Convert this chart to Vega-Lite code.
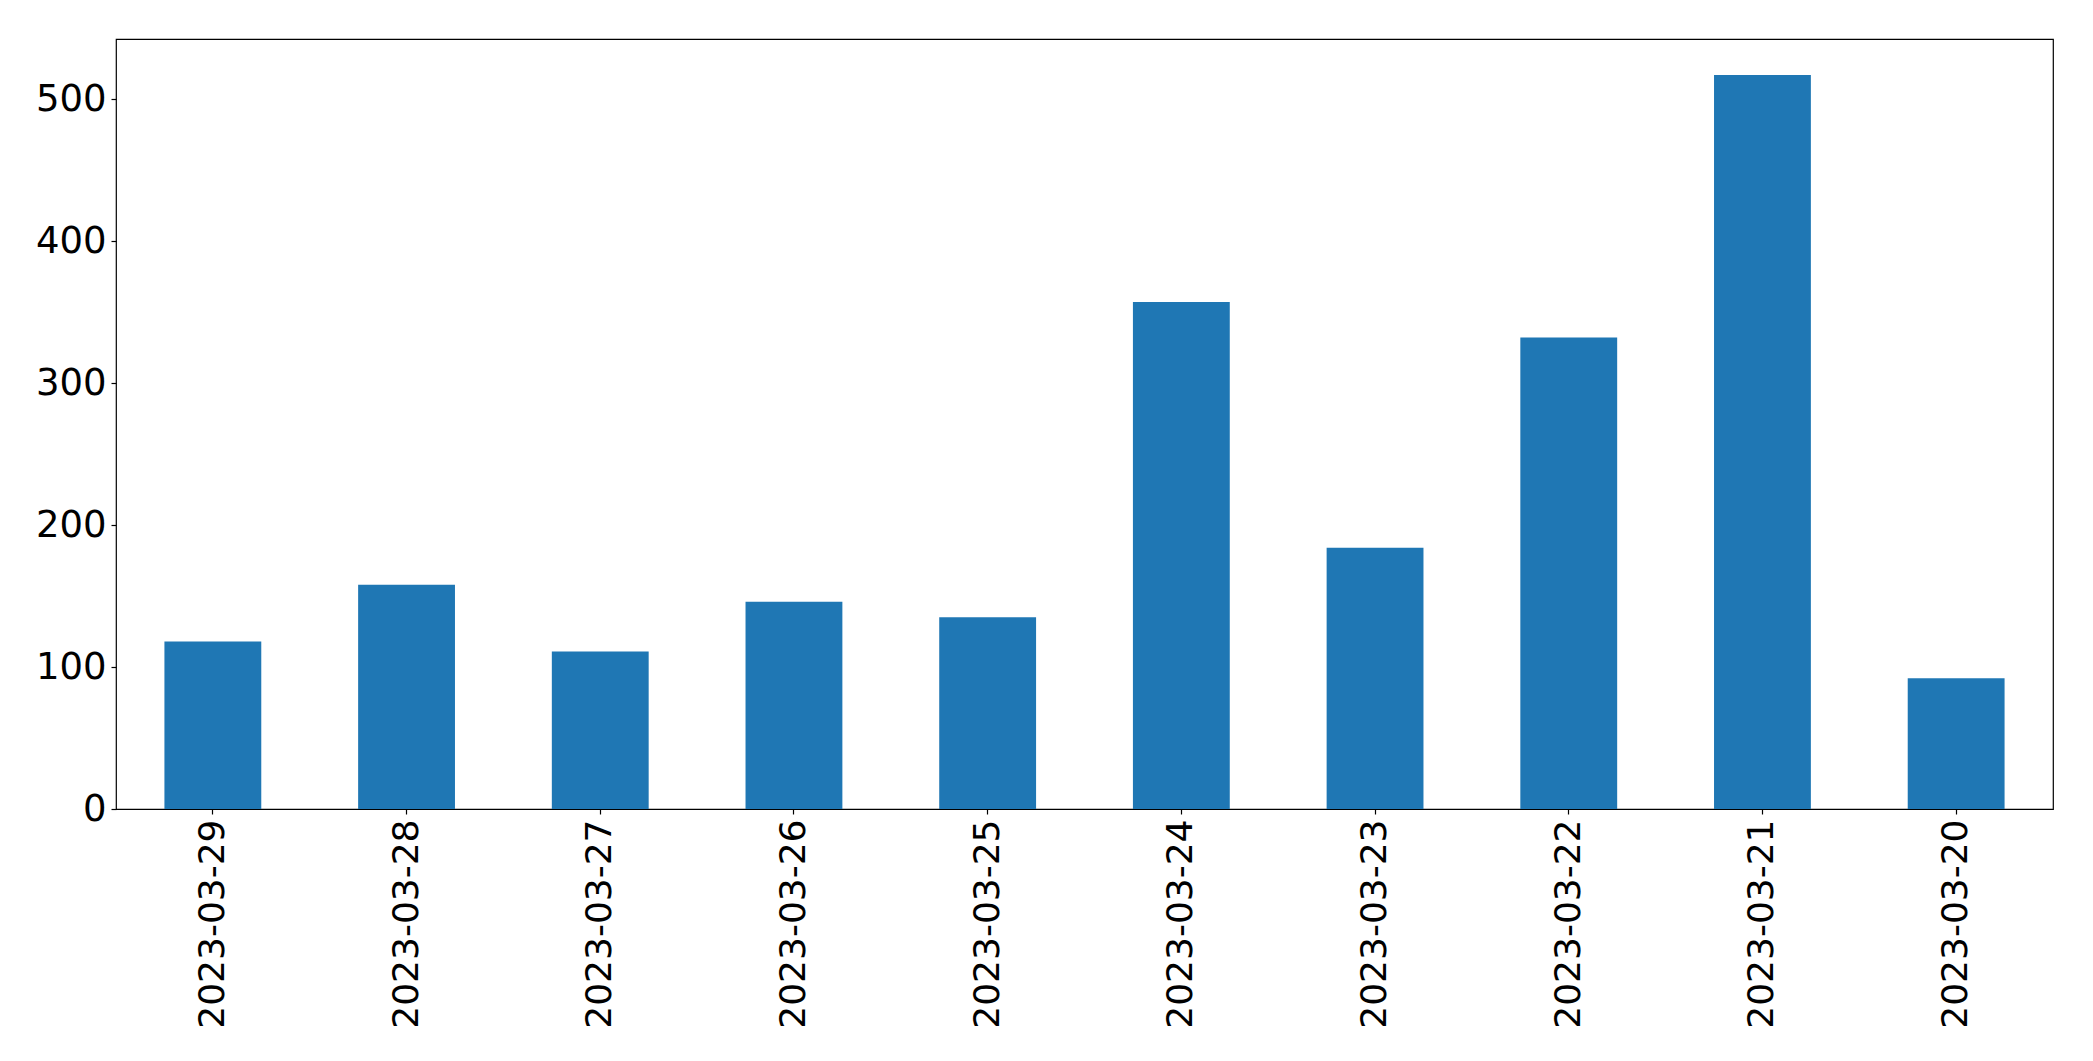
{
  "$schema": "https://vega.github.io/schema/vega-lite/v6.json",
  "width": 1937,
  "height": 770,
  "autosize": {"type": "none"},
  "padding": {"left": 116, "top": 39, "right": 40, "bottom": 252},
  "background": "white",
  "config": {
    "view": {"stroke": "black", "strokeWidth": 1.2},
    "axis": {"grid": false, "domain": false, "tickColor": "black", "tickSize": 5, "tickWidth": 1.2, "labelColor": "black", "labelFont": "DejaVu Sans", "labelFontSize": 36, "labelLimit": 0, "title": null}
  },
  "data": {
    "values": [
      {"date": "2023-03-29", "count": 118},
      {"date": "2023-03-28", "count": 158},
      {"date": "2023-03-27", "count": 111},
      {"date": "2023-03-26", "count": 146},
      {"date": "2023-03-25", "count": 135},
      {"date": "2023-03-24", "count": 357},
      {"date": "2023-03-23", "count": 184},
      {"date": "2023-03-22", "count": 332},
      {"date": "2023-03-21", "count": 517},
      {"date": "2023-03-20", "count": 92}
    ]
  },
  "mark": {"type": "bar", "color": "#1f77b4"},
  "encoding": {
    "x": {
      "field": "date", "type": "nominal", "sort": null,
      "scale": {"paddingInner": 0.5, "paddingOuter": 0.25},
      "axis": {"labelAngle": -90, "labelAlign": "right", "labelBaseline": "middle", "labelPadding": 5}
    },
    "y": {
      "field": "count", "type": "quantitative",
      "scale": {"domain": [0, 542.3], "nice": false, "zero": true},
      "axis": {"values": [0, 100, 200, 300, 400, 500], "labelPadding": 5, "labelFontSize": 37}
    }
  }
}
